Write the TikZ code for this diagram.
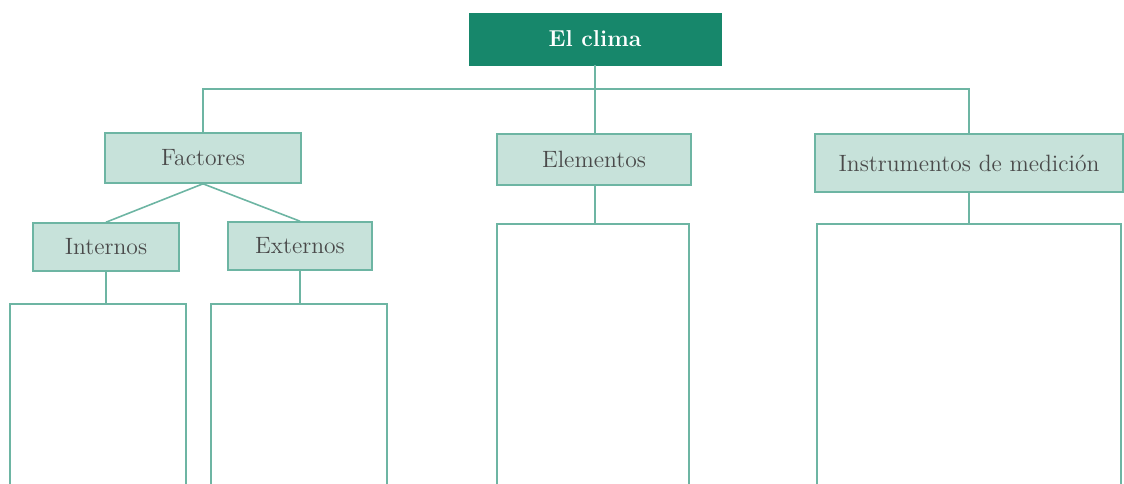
\documentclass[tikz,border=0pt]{standalone}
\usepackage{tikz}
\usetikzlibrary{positioning}

\definecolor{verdeclima}{HTML}{17876B}
\definecolor{fondocaja}{HTML}{C7E2DA}
\definecolor{bordecaja}{HTML}{6DB5A3}
\definecolor{textocaja}{HTML}{4A4A4A}

\tikzset{
  titulo/.style={fill=verdeclima, draw=verdeclima, text=white, font=\fontsize{11.5}{13}\selectfont\bfseries,
    minimum width=126pt, minimum height=26pt, inner sep=0pt},
  rotulo/.style={fill=fondocaja, draw=bordecaja, line width=0.8pt, text=textocaja,
    font=\fontsize{11.8}{13}\selectfont, minimum height=25pt, inner sep=0pt},
  hoja/.style={draw=bordecaja, line width=0.8pt, anchor=north, minimum height=140pt, inner sep=0pt},
  enlace/.style={draw=bordecaja, line width=0.8pt}
}

\begin{document}
\begin{tikzpicture}[x=0.5pt,y=-0.5pt]
\clip (0,0) rectangle (1124,483);
\node (CLIMA) [titulo] at (595,39) {El clima};
\node (FACT) [rotulo, minimum width=98pt] at (203,158) {Factores};
\node (ELEM) [rotulo, minimum width=97pt, minimum height=25.5pt] at (594,159.5) {Elementos};
\node (INSTR) [rotulo, minimum width=154pt, minimum height=29pt] at (969,163) {Instrumentos de medición};
\node (INT) [rotulo, minimum width=73pt, minimum height=24pt] at (106,247) {Internos};
\node (EXT) [rotulo, minimum width=72pt, minimum height=24pt] at (300,246) {Externos};
% cajas abiertas por abajo
\node (CAJAINT) [hoja, minimum width=88pt] at (98,303) {};
\node (CAJAEXT) [hoja, minimum width=88pt] at (299,303) {};
\node (CAJAELEM) [hoja, minimum width=96pt] at (593,223) {};
\node (CAJAINSTR) [hoja, minimum width=152pt] at (969,223) {};
\coordinate (BUS) at (595,89);
\draw [enlace] (CLIMA.south) -- (BUS);
\draw [enlace] (FACT.north) |- (BUS) -| (INSTR.north);
\draw [enlace] (BUS) -- (BUS |- ELEM.north);
\draw [enlace] (FACT.south) -- (INT.north);
\draw [enlace] (FACT.south) -- (EXT.north);
\draw [enlace] (INT.south) -- (INT.south |- CAJAINT.north);
\draw [enlace] (EXT.south) -- (EXT.south |- CAJAEXT.north);
\draw [enlace] (BUS |- ELEM.south) -- (BUS |- CAJAELEM.north);
\draw [enlace] (INSTR.south) -- (CAJAINSTR.north);
\end{tikzpicture}
\end{document}
